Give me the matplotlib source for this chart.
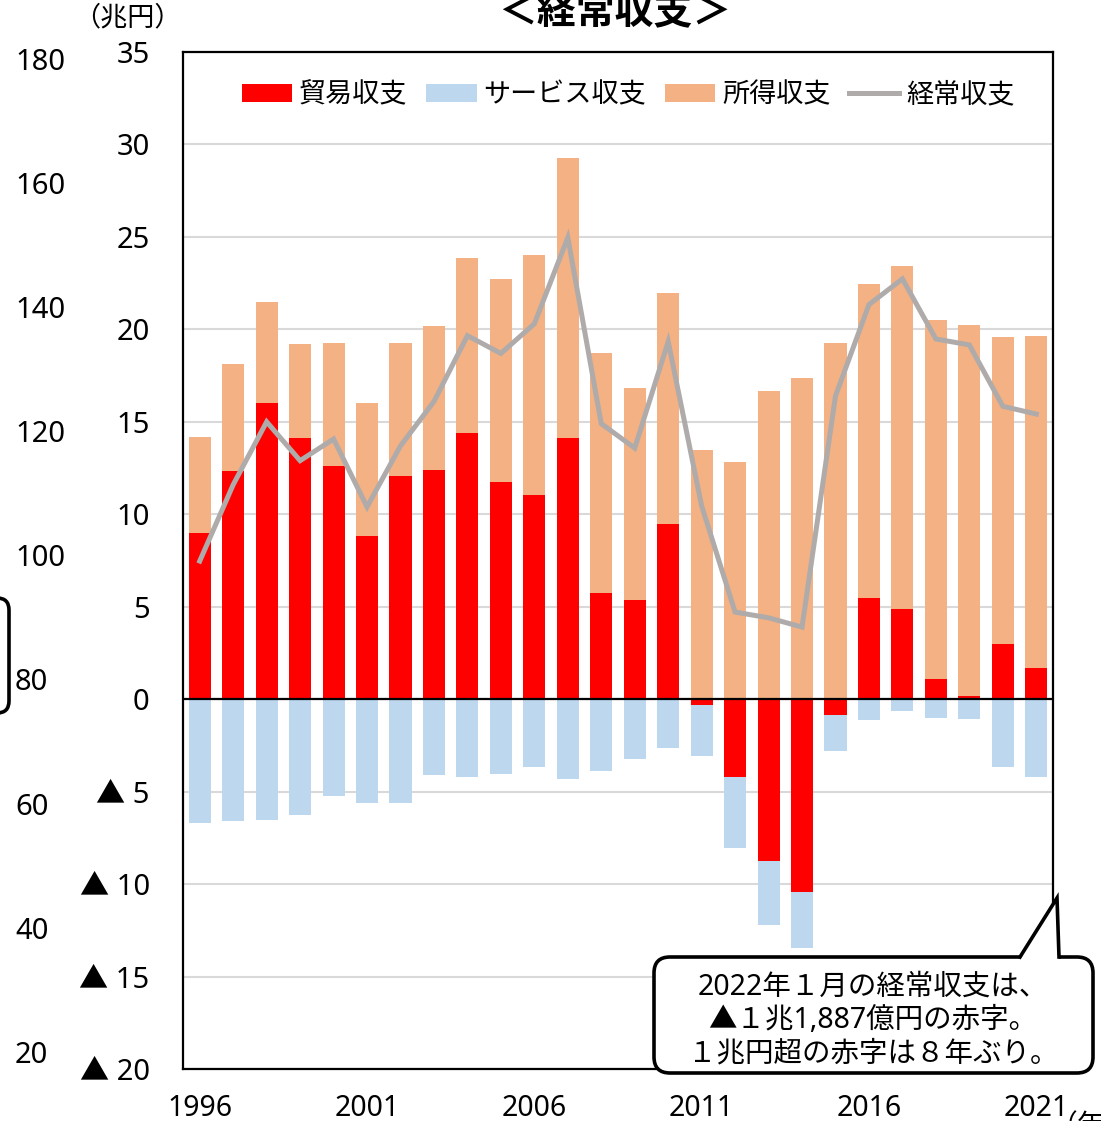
import numpy as np
import matplotlib
matplotlib.use("Agg")
import matplotlib.pyplot as plt
from matplotlib.patches import FancyBboxPatch, Patch, Polygon
from matplotlib.lines import Line2D

plt.rcParams["font.family"] = ["Noto Sans", "Noto Sans CJK JP", "DejaVu Sans"]

# 兆円, calendar years
years = list(range(1996, 2022))
trade = [9.0, 12.35, 16.0, 14.1, 12.62, 8.8, 12.08, 12.4, 14.37, 11.72, 11.03, 14.15, 5.76,
         5.35, 9.46, -0.29, -4.21, -8.74, -10.44, -0.83, 5.47, 4.86, 1.1, 0.15, 2.98, 1.7]
services = [-6.69, -6.57, -6.51, -6.24, -5.23, -5.62, -5.62, -4.09, -4.2, -4.05, -3.69, -4.32, -3.87,
            -3.24, -2.62, -2.77, -3.83, -3.49, -3.04, -1.95, -1.1, -0.65, -1.0, -1.05, -3.69, -4.23]
income = [5.2, 5.78, 5.5, 5.1, 6.66, 7.23, 7.2, 7.8, 9.5, 11.03, 12.97, 15.1, 12.98,
          11.46, 12.53, 13.45, 12.82, 16.67, 17.39, 19.28, 17.0, 18.56, 19.38, 20.1, 16.58, 17.96]
current = [7.47, 11.6, 15.0, 12.9, 14.07, 10.4, 13.7, 16.1, 19.66, 18.7, 20.3, 24.96, 14.9,
           13.58, 19.34, 10.45, 4.71, 4.4, 3.9, 16.4, 21.34, 22.73, 19.48, 19.16, 15.84, 15.42]

series_names = ["貿易収支", "サービス収支", "所得収支"]
series_colors = ["#ff0000", "#bdd7ee", "#f4b183"]
line_name = "経常収支"
line_color = "#afabab"

yticks = list(range(-20, 36, 5))
ytick_labels = [f"▲ {-v}" if v < 0 else str(v) for v in yticks]
xtick_years = [1996, 2001, 2006, 2011, 2016, 2021]
side_values = [180, 160, 140, 120, 100, 80, 60, 40, 20]

note_lines = ["2022年１月の経常収支は、", "▲１兆1,887億円の赤字。", "１兆円超の赤字は８年ぶり。"]

W, H = 1101, 1121
fig = plt.figure(figsize=(W / 100, H / 100), dpi=100)
ax = fig.add_axes([183 / W, 1 - 1069 / H, 870 / W, (1069 - 52) / H])

x = np.arange(len(years))
pos_base = np.zeros(len(years))
neg_base = np.zeros(len(years))
for vals, color in zip([trade, services, income], series_colors):
    vals = np.array(vals)
    base = np.where(vals >= 0, pos_base, neg_base)
    ax.bar(x, vals, bottom=base, width=0.66, color=color, zorder=2)
    pos_base = pos_base + np.where(vals >= 0, vals, 0)
    neg_base = neg_base + np.where(vals < 0, vals, 0)

ax.plot(x, current, color=line_color, lw=3.6, zorder=3, solid_joinstyle="miter")
ax.axhline(0, color="black", lw=1.6, zorder=4)

ax.set_xlim(-0.5, len(years) - 0.5)
ax.set_ylim(-20, 35)
ax.set_yticks(yticks)
ax.set_yticklabels(ytick_labels, fontsize=21)
ax.set_xticks([years.index(y) for y in xtick_years])
ax.set_xticklabels([str(y) for y in xtick_years], fontsize=20.5)
ax.tick_params(length=0)
ax.tick_params(axis="y", pad=24)
ax.tick_params(axis="x", pad=18)
ax.grid(axis="y", color="#d9d9d9", lw=1.5, zorder=0)
ax.set_axisbelow(True)
for sp in ax.spines.values():
    sp.set_color("black")
    sp.set_linewidth(1.6)

handles = [Patch(facecolor=c) for c in series_colors] + [Line2D([], [], color=line_color, lw=3.6)]
ax.legend(handles, series_names + [line_name], ncol=4, loc="upper center",
          bbox_to_anchor=(0.512, 0.995), frameon=False,
          prop={"family": ["Noto Sans CJK JP"], "size": 19.5},
          handlelength=1.85, handleheight=0.6, handletextpad=0.25, columnspacing=0.7)

# overlay in pixel units for the surrounding annotations
ov = fig.add_axes([0, 0, 1, 1], zorder=10)
ov.set_xlim(0, W)
ov.set_ylim(H, 0)
ov.axis("off")
ov.patch.set_alpha(0)

ov.text(615, 13, "＜経常収支＞", fontsize=28, fontweight="bold", ha="center", va="center",
        family=["Noto Sans CJK JP"])
ov.text(127, 18, "（兆円）", fontsize=19.5, ha="center", va="center", family=["Noto Sans CJK JP"])
for i, v in enumerate(side_values):
    ov.text(15, 62 + i * 124.2, str(v), fontsize=21, ha="left", va="center")
ov.text(1050, 1126, "（年）", fontsize=20, ha="left", va="center", family=["Noto Sans CJK JP"])

# bracket on the left edge
ov.add_patch(FancyBboxPatch((-60, 598), 69, 115, boxstyle="round,pad=0,rounding_size=12",
                            fc="none", ec="black", lw=2.6, clip_on=False))

# callout box with pointer
ov.add_patch(FancyBboxPatch((654, 957), 439, 116, boxstyle="round,pad=0,rounding_size=16",
                            fc="white", ec="black", lw=2.6))
ov.add_patch(Polygon([(1020, 960), (1057, 898), (1059, 960)], closed=True, fc="white", ec="none", zorder=3))
ov.plot([1020, 1057, 1059], [957, 898, 957], color="black", lw=2.6, zorder=4, solid_joinstyle="miter")
for i, line in enumerate(note_lines):
    ov.text(873, 987 + i * 33.5, line, fontsize=20.5, ha="center", va="center", zorder=5)

fig.savefig("out.png", dpi=100)
